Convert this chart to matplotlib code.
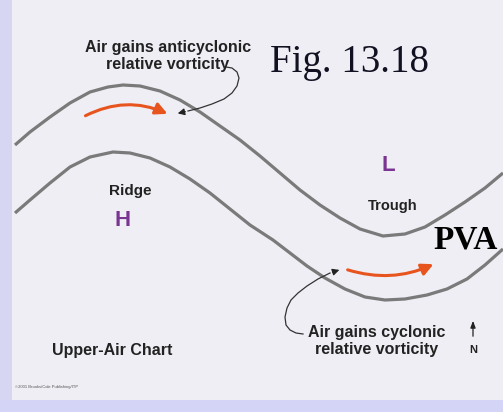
import matplotlib.pyplot as plt
from matplotlib.patches import FancyArrowPatch, Rectangle

# contours (pixels, y vers le bas)
upper_x = [15, 30, 50, 70, 90, 108, 123, 140, 160, 180, 200, 220, 240, 260, 280, 300,
           320, 340, 360, 383, 405, 425, 445, 465, 485, 503]
upper_y = [145, 132, 117, 103, 92, 87, 85, 86, 91, 100, 112, 126, 140, 156, 173, 190,
           205, 218, 229, 236, 234, 227, 215, 202, 188, 173]
lower_x = [15, 30, 50, 70, 90, 113, 130, 150, 170, 190, 210, 230, 250, 273, 290, 307,
           325, 345, 365, 385, 405, 427, 447, 467, 485, 503]
lower_y = [213, 200, 183, 167, 157, 152, 153, 158, 167, 179, 193, 209, 225, 240, 253, 266,
           278, 289, 297, 300, 299, 295, 289, 279, 265, 249]

# fleches orange (debut, fin)
flow_top = [(83, 117), (170, 115)]
flow_bottom = [(345, 269), (436, 263)]

# fleches noires (annotations)
note_top_x = [226, 232, 237, 239, 237, 232, 224, 212, 200, 188, 175]
note_top_y = [67, 68, 72, 78, 86, 93, 99, 104, 108, 111, 114]
note_bot_x = [303, 296, 290, 286, 285, 287, 291, 298, 307, 318, 330, 342]
note_bot_y = [334, 333, 330, 325, 317, 308, 300, 293, 286, 279, 273, 269]

labels = [
    ("Air gains anticyclonic\nrelative vorticity", 168, 56, 11.5, "bold", "#222222", "sans"),
    ("Fig. 13.18", 350, 62, 28, "normal", "#111122", "serif"),
    ("L", 388, 165, 16, "bold", "#7a3593", "sans"),
    ("Ridge", 130, 191, 11, "bold", "#222222", "sans"),
    ("H", 123, 220, 16, "bold", "#7a3593", "sans"),
    ("Trough", 393, 206, 10.5, "bold", "#222222", "sans"),
    ("PVA", 466, 240, 24, "bold", "#000000", "serif"),
    ("Upper-Air Chart", 112, 350, 11.5, "bold", "#222222", "sans"),
    ("Air gains cyclonic\nrelative vorticity", 377, 341, 11.5, "bold", "#222222", "sans"),
    ("N", 473, 350, 8, "bold", "#222222", "sans"),
]

fig = plt.figure(figsize=(5.03, 4.12), dpi=100)
fig.patch.set_facecolor("#efeef4")
ax = fig.add_axes([0, 0, 1, 1])
ax.set_xlim(0, 503)
ax.set_ylim(412, 0)
ax.axis("off")

# bandes du cadre
ax.add_patch(Rectangle((0, 0), 12, 412, color="#d6d6f2", lw=0))
ax.add_patch(Rectangle((0, 400), 503, 12, color="#d4d4f6", lw=0))

ax.plot(upper_x, upper_y, color="#7a7a7a", lw=2.3, solid_capstyle="butt", solid_joinstyle="round")
ax.plot(lower_x, lower_y, color="#7a7a7a", lw=2.3, solid_capstyle="butt", solid_joinstyle="round")

for (p0, p1), rad in [(flow_top, -0.25), (flow_bottom, 0.2)]:
    ax.add_patch(FancyArrowPatch(p0, p1, connectionstyle="arc3,rad=%s" % rad,
                                 arrowstyle="-|>,head_length=7,head_width=3.5",
                                 color="#e8541e", lw=2.2))

for xs, ys in [(note_top_x, note_top_y), (note_bot_x, note_bot_y)]:
    ax.plot(xs[:-1], ys[:-1], color="#333333", lw=0.9)
    ax.annotate("", xy=(xs[-1], ys[-1]), xytext=(xs[-2], ys[-2]),
                arrowprops=dict(arrowstyle="-|>,head_length=0.4,head_width=0.2", color="#222222", lw=0.9))

# fleche du nord
ax.annotate("", xy=(473, 318), xytext=(473, 339),
            arrowprops=dict(arrowstyle="-|>,head_length=0.4,head_width=0.15", color="#222222", lw=0.9))

for txt, x, y, fs, w, c, fam in labels:
    family = "Liberation Serif" if fam == "serif" else "Liberation Sans"
    ax.text(x, y, txt, fontsize=fs, fontweight=w, color=c, family=family,
            ha="center", va="center", linespacing=1.2)

ax.text(15, 387, "\u00a92001 Brooks/Cole Publishing/ITP", fontsize=3, color="#555555",
        family="Liberation Sans", ha="left", va="center")

fig.savefig("out.png", dpi=100, facecolor=fig.get_facecolor())
